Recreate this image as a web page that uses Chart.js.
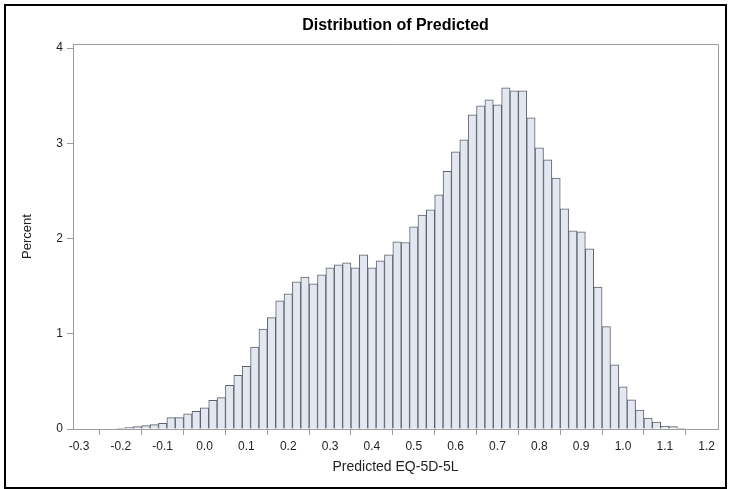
<!DOCTYPE html>
<html>
<head>
<meta charset="utf-8">
<script src="https://cdn.jsdelivr.net/npm/chart.js@4.4.1/dist/chart.umd.min.js"></script>
<style>
  html, body { margin: 0; padding: 0; background: #fff; }
  #wrap { position: relative; width: 729px; height: 489px; }
  #frame { position: absolute; left: 4px; top: 4px; width: 719px; height: 481px; border: 2px solid #000; pointer-events: none; }
</style>
</head>
<body>
<div id="wrap">
  <canvas id="c" width="729" height="489"></canvas>
  <div id="frame"></div>
</div>
<script>
const chartTitle = "Distribution of Predicted";
const xAxisTitle = "Predicted EQ-5D-5L";
const yAxisTitle = "Percent";

const binCenters = [
  -0.20, -0.18, -0.16, -0.14, -0.12, -0.10, -0.08, -0.06, -0.04, -0.02,
  0.00, 0.02, 0.04, 0.06, 0.08, 0.10, 0.12, 0.14, 0.16, 0.18,
  0.20, 0.22, 0.24, 0.26, 0.28, 0.30, 0.32, 0.34, 0.36, 0.38,
  0.40, 0.42, 0.44, 0.46, 0.48, 0.50, 0.52, 0.54, 0.56, 0.58,
  0.60, 0.62, 0.64, 0.66, 0.68, 0.70, 0.72, 0.74, 0.76, 0.78,
  0.80, 0.82, 0.84, 0.86, 0.88, 0.90, 0.92, 0.94, 0.96, 0.98,
  1.00, 1.02, 1.04, 1.06, 1.08, 1.10, 1.12, 1.14
];

const percents = [
  0.007, 0.018, 0.025, 0.035, 0.046, 0.060, 0.120, 0.120, 0.160, 0.186,
  0.223, 0.300, 0.330, 0.458, 0.563, 0.658, 0.860, 1.050, 1.170, 1.345,
  1.418, 1.544, 1.596, 1.523, 1.618, 1.691, 1.723, 1.744, 1.691, 1.828,
  1.691, 1.765, 1.828, 1.965, 1.958, 2.123, 2.245, 2.300, 2.458, 2.705,
  2.909, 3.035, 3.298, 3.393, 3.456, 3.404, 3.582, 3.551, 3.551, 3.267,
  2.951, 2.825, 2.635, 2.312, 2.081, 2.070, 1.891, 1.491, 1.075, 0.673,
  0.443, 0.305, 0.198, 0.115, 0.072, 0.030, 0.025, 0.008
];

const xTickValues = [-0.3, -0.2, -0.1, 0.0, 0.1, 0.2, 0.3, 0.4, 0.5, 0.6, 0.7, 0.8, 0.9, 1.0, 1.1, 1.2];
const yTickValues = [0, 1, 2, 3, 4];

const axisGray = '#9c9c9c';
const fontFamily = 'Liberation Sans, Arial, sans-serif';

const frameBox = {
  id: 'frameBox',
  afterDraw(chart) {
    const {ctx, chartArea: a} = chart;
    ctx.save();
    ctx.strokeStyle = axisGray;
    ctx.lineWidth = 1;
    ctx.beginPath();
    ctx.moveTo(a.left, a.top + 0.5);
    ctx.lineTo(a.right + 0.5, a.top + 0.5);
    ctx.lineTo(a.right + 0.5, a.bottom);
    ctx.stroke();
    ctx.restore();
  }
};

new Chart(document.getElementById('c'), {
  type: 'bar',
  data: {
    datasets: [{
      label: yAxisTitle,
      data: binCenters.map((x, i) => ({ x: x, y: percents[i] })),
      backgroundColor: '#e2e7f1',
      borderColor: '#5f6368',
      borderWidth: 1,
      barPercentage: 1.0,
      categoryPercentage: 1.0
    }]
  },
  options: {
    responsive: false,
    animation: false,
    layout: { padding: { left: 0, right: 11, top: 0, bottom: 0 } },
    plugins: {
      legend: { display: false },
      tooltip: { enabled: false },
      title: {
        display: true,
        text: chartTitle,
        fullSize: false,
        color: '#000',
        font: { family: fontFamily, size: 16, weight: 'bold', lineHeight: 1.2 },
        padding: { top: 16.4, bottom: 8.4 }
      }
    },
    scales: {
      x: {
        type: 'linear',
        min: -0.3143,
        max: 1.227,
        offset: false,
        afterFit: s => { s.height = 60; },
        afterBuildTicks: s => { s.ticks = xTickValues.map(v => ({ value: v })); },
        ticks: {
          autoSkip: false,
          maxRotation: 0,
          padding: 4,
          color: '#222',
          font: { family: fontFamily, size: 12 },
          callback: v => Number(v).toFixed(1)
        },
        grid: { drawOnChartArea: false, drawTicks: true, tickLength: 6, color: axisGray },
        border: { display: true, color: axisGray },
        title: {
          display: true,
          text: xAxisTitle,
          color: '#222',
          font: { family: fontFamily, size: 14 },
          padding: { top: 0, bottom: 13.6 }
        }
      },
      y: {
        type: 'linear',
        min: 0,
        max: 4.042,
        afterFit: s => { s.width = 73; },
        afterBuildTicks: s => { s.ticks = yTickValues.map(v => ({ value: v })); },
        ticks: {
          padding: 4,
          color: '#222',
          font: { family: fontFamily, size: 12 },
          callback: v => String(v)
        },
        grid: { drawOnChartArea: false, drawTicks: true, tickLength: 6, color: axisGray },
        border: { display: true, color: axisGray },
        title: {
          display: true,
          text: yAxisTitle,
          color: '#222',
          font: { family: fontFamily, size: 13 },
          padding: { top: 20, bottom: 0 }
        }
      }
    }
  },
  plugins: [frameBox]
});
</script>
</body>
</html>
